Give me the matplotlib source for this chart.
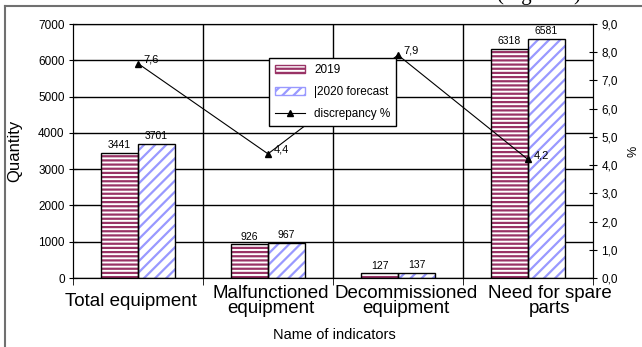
import matplotlib
matplotlib.use('Agg')
import matplotlib.pyplot as plt
from matplotlib.patches import Patch
from matplotlib.lines import Line2D
from matplotlib.ticker import FuncFormatter
from matplotlib.transforms import ScaledTranslation
import numpy as np

categories = ['Total equipment', 'Malfunctioned\nequipment',
              'Decommissioned\nequipment', 'Need for spare\nparts']
qty_2019 = [3441, 926, 127, 6318]
qty_2020 = [3701, 967, 137, 6581]
discrepancy = [7.6, 4.4, 7.9, 4.2]

plt.rcParams['font.family'] = ['Liberation Sans', 'DejaVu Sans']
plt.rcParams['hatch.linewidth'] = 1.6

maroon = '#993366'
lilac = '#9999ff'

def comma(v, pos=None):
    return '{:.1f}'.format(v).replace('.', ',')

fig = plt.figure(figsize=(6.42, 3.47), dpi=100)
ax = fig.add_axes([0.1137, 0.1988, 0.8100, 0.7320])

x = np.arange(len(categories))
w = 0.285

# hatched fill first, then a plain black outline on top
ax.bar(x - w / 2, qty_2019, w, color='white', edgecolor=maroon, hatch='----', lw=0, zorder=2)
b1 = ax.bar(x - w / 2, qty_2019, w, fill=False, edgecolor='black', lw=1, zorder=3)
ax.bar(x + w / 2, qty_2020, w, color='white', edgecolor=lilac, hatch='///', lw=0, zorder=2)
b2 = ax.bar(x + w / 2, qty_2020, w, fill=False, edgecolor='black', lw=1, zorder=3)
ax.bar_label(b1, padding=2, fontsize=7.5)
ax.bar_label(b2, padding=2, fontsize=7.5)

ax.set_xlim(-0.5, 3.5)
ax.set_ylim(0, 7000)
ax.set_yticks(range(0, 7001, 1000))
ax.yaxis.grid(True, color='black', lw=1)
ax.set_axisbelow(True)
for xb in [0.5, 1.5, 2.5]:
    ax.axvline(xb, color='black', lw=1, zorder=1)

# category names drawn as text so the wide ones can be nudged sideways
ax.set_xticks([])
ax.set_xticks([-0.5, 0.5, 1.5, 2.5, 3.5], minor=True)
ax.tick_params(axis='x', which='minor', length=5, direction='out')
base = ax.get_xaxis_transform()
for xi, name, dx in zip(x, categories, [-7, 3, 8, 22]):
    ax.text(xi, 0, name, transform=base + ScaledTranslation(dx / 100, -0.23, fig.dpi_scale_trans),
            ha='center', va='center', fontsize=13.5, linespacing=0.85, multialignment='center')

ax.tick_params(axis='y', direction='inout', length=6, labelsize=8.5, pad=3)
for s in ax.spines.values():
    s.set_color('black')

ax.set_ylabel('Quantity', fontsize=12)
ax.yaxis.set_label_coords(-0.098, 0.5)
ax.set_xlabel('Name of indicators', fontsize=10.5)
ax.xaxis.set_label_coords(0.502, -0.195)

ax2 = ax.twinx()
ax2.set_ylim(0, 9)
ax2.set_yticks(range(0, 10))
ax2.yaxis.set_major_formatter(FuncFormatter(comma))
ax2.tick_params(axis='y', direction='inout', length=6, labelsize=8.5, pad=3)
ax2.set_ylabel('%', fontsize=9)
ax2.yaxis.set_label_coords(1.067, 0.5)

ax2.plot(x, discrepancy, color='black', lw=0.8, marker='^', ms=5, zorder=5)
for xi, d in zip(x, discrepancy):
    ax2.annotate(comma(d), (xi, d), xytext=(4, 3), textcoords='offset points',
                 ha='left', va='center', fontsize=8)

handles = [
    Patch(facecolor='white', edgecolor=maroon, hatch='----', label='2019'),
    Patch(facecolor='white', edgecolor=lilac, hatch='///', label='|2020 forecast'),
    Line2D([], [], color='black', lw=0.8, marker='^', ms=5, label='discrepancy %'),
]
leg = ax2.legend(handles=handles, loc='upper left', bbox_to_anchor=(0.410, 0.850),
                 bbox_transform=fig.transFigure, fontsize=8.5, frameon=True,
                 fancybox=False, edgecolor='black', framealpha=1,
                 handlelength=2.5, labelspacing=0.85, borderpad=0.5)
leg.get_frame().set_linewidth(1)
leg.set_zorder(10)

# page frame and caption cut off at the top edge
fig.add_artist(Line2D([5 / 642, 5 / 642], [0, 1 - 5.5 / 347], transform=fig.transFigure,
                      color='#707070', lw=1.5))
fig.add_artist(Line2D([5 / 642, 1], [1 - 5.5 / 347, 1 - 5.5 / 347], transform=fig.transFigure,
                      color='#707070', lw=1.5))
fig.text(539 / 642, 1.0, '(Figure 1)', ha='center', va='baseline',
         fontsize=15, family='Liberation Serif')

fig.savefig('out.png', dpi=100)
